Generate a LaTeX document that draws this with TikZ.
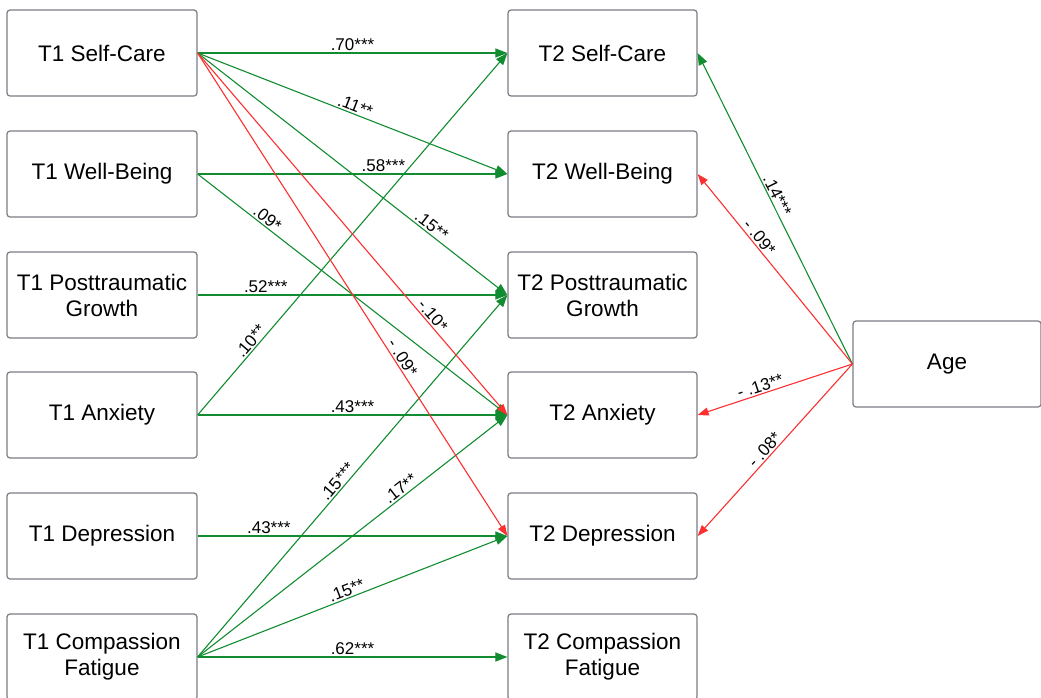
\documentclass[tikz,border=0pt]{standalone}
\usepackage{fontspec}
\setmainfont{Liberation Sans}
\usepackage{xcolor}
\usepackage{tikz}
\usetikzlibrary{arrows.meta}
\definecolor{pathgreen}{RGB}{18,140,48}
\definecolor{pathred}{RGB}{252,48,48}
\definecolor{boxgray}{RGB}{122,124,132}
\tikzset{
	var/.style={draw=boxgray,line width=1.2pt,rounded corners=3pt,minimum width=190pt,minimum height=86pt,
		inner sep=0pt,align=center,font=\fontsize{22.5}{26}\selectfont},
	gpath/.style={draw=pathgreen,line width=1.1pt,-{Triangle[length=12pt,width=9pt]}},
	rpath/.style={draw=pathred,line width=1.1pt,-{Triangle[length=11pt,width=8pt]}},
	lab/.style={sloped,above,inner sep=1.5pt,font=\fontsize{17}{18}\selectfont,text=black}
}

\begin{document}
\begin{tikzpicture}[x=1pt,y=-1pt]
					\useasboundingbox (0,0) rectangle (1041,697);
					\node[var] (sc1) at (102,53) {T1 Self-Care};
					\node[var] (wb1) at (102,174) {T1 Well-Being};
					\node[var] (ptg1) at (102,295) {T1 Posttraumatic\\Growth};
					\node[var] (anx1) at (102,415) {T1 Anxiety};
					\node[var] (dep1) at (102,536) {T1 Depression};
					\node[var] (cf1) at (102,657) {T1 Compassion\\Fatigue};
					\node[var,minimum width=189pt] (sc2) at (602.5,53) {T2 Self-Care};
					\node[var,minimum width=189pt] (wb2) at (602.5,174) {T2 Well-Being};
					\node[var,minimum width=189pt] (ptg2) at (602.5,295) {T2 Posttraumatic\\Growth};
					\node[var,minimum width=189pt] (anx2) at (602.5,415) {T2 Anxiety};
					\node[var,minimum width=189pt] (dep2) at (602.5,536) {T2 Depression};
					\node[var,minimum width=189pt] (cf2) at (602.5,657) {T2 Compassion\\Fatigue};
					\node[var,minimum width=188pt] (age) at (947,364) {Age};
					\draw[gpath] (sc1.east) -- node[lab,pos=.5] {.70***} (sc2.west);
					\draw[gpath] (sc1.east) -- node[lab,pos=.5] {.11**} (wb2.west);
					\draw[gpath] (sc1.east) -- node[lab,pos=.74] {.15**} (ptg2.west);
					\draw[gpath] (wb1.east) -- node[lab,pos=.6] {.58***} (wb2.west);
					\draw[gpath] (wb1.east) -- node[lab,pos=.21] {.09*} (anx2.west);
					\draw[gpath] (ptg1.east) -- node[lab,pos=.22] {.52***} (ptg2.west);
					\draw[gpath] (anx1.east) -- node[lab,pos=.19] {.10**} (sc2.west);
					\draw[gpath] (anx1.east) -- node[lab,pos=.5] {.43***} (anx2.west);
					\draw[gpath] (dep1.east) -- node[lab,pos=.23] {.43***} (dep2.west);
					\draw[gpath] (cf1.east) -- node[lab,pos=.47] {.15***} (ptg2.west);
					\draw[gpath] (cf1.east) -- node[lab,pos=.67] {.17**} (anx2.west);
					\draw[gpath] (cf1.east) -- node[lab,pos=.49] {.15**} (dep2.west);
					\draw[gpath] (cf1.east) -- node[lab,pos=.5] {.62***} (cf2.west);
					\draw[rpath] (sc1.east) -- node[lab,pos=.74] {-.10*} (anx2.west);
					\draw[rpath] (sc1.east) -- node[lab,pos=.64] {- .09*} (dep2.west);
					\draw[gpath] (age.west) -- node[lab,pos=.53] {.14***} (sc2.east);
					\draw[rpath] (age.west) -- node[lab,pos=.64] {- .09*} (wb2.east);
					\draw[rpath] (age.west) -- node[lab,pos=.58] {- .13**} (anx2.east);
					\draw[rpath] (age.west) -- node[lab,pos=.53] {- .08*} (dep2.east);
				\end{tikzpicture}
\end{document}
